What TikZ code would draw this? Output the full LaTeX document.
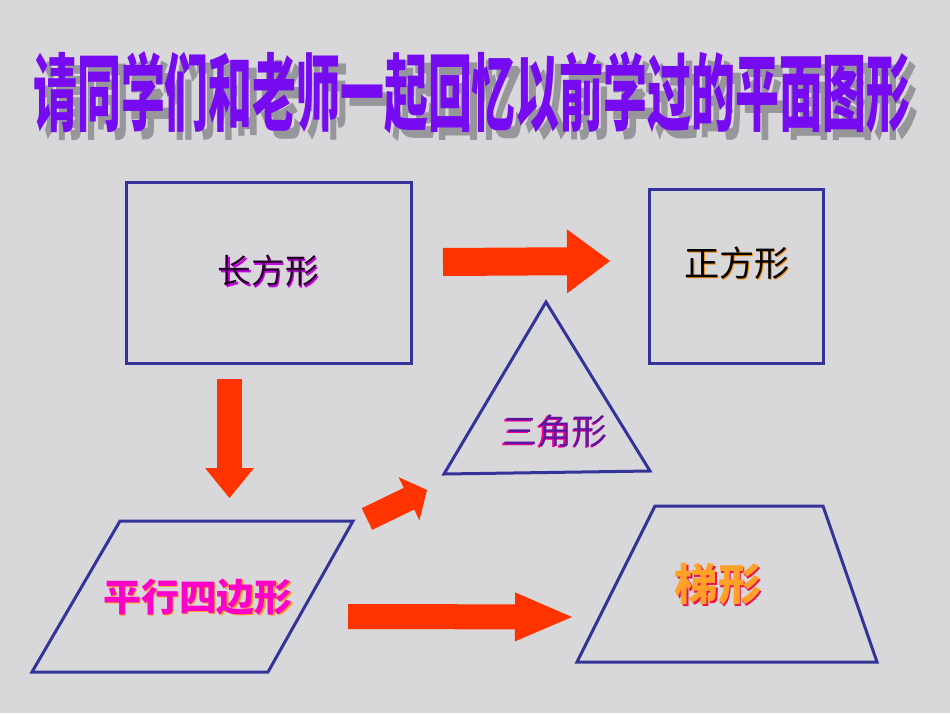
\documentclass[tikz,border=0pt]{standalone}
\usepackage{fontspec}
\usepackage{tikz}
\usetikzlibrary{arrows.meta,positioning}
\newfontfamily\cjk{Noto Sans CJK SC}
\definecolor{marble}{RGB}{216,216,218}
\definecolor{edgeblue}{RGB}{51,51,153}
\definecolor{arrowred}{RGB}{255,51,0}
\definecolor{titlepurple}{RGB}{118,10,240}
\definecolor{titleshade}{RGB}{150,150,155}
\definecolor{darkplum}{RGB}{45,0,50}
\definecolor{glowplum}{RGB}{200,0,230}
\definecolor{glowamber}{RGB}{240,140,20}
\definecolor{triviolet}{RGB}{95,20,160}
\definecolor{trimagenta}{RGB}{255,0,150}
\definecolor{paramagenta}{RGB}{255,0,200}
\definecolor{paraglow}{RGB}{255,160,40}
\definecolor{trapgold}{RGB}{255,160,40}
\definecolor{trapred}{RGB}{235,20,80}

\tikzset{
    figline/.style={draw=edgeblue, line width=0.075cm, line join=miter},
    blockarrow/.style n args={3}{arrowred, line width=#1,
        -{Triangle[length=#2, width=#3, line width=0pt]}},
    figlabel/.style={font=\cjk\fontsize{#1}{#1}\selectfont, inner sep=0pt},
    boldlabel/.style={font=\cjk\bfseries\fontsize{#1}{#1}\selectfont, inner sep=0pt},
}

\begin{document}
\begin{tikzpicture}[x=0.025cm, y=-0.025cm]
    % background
    \fill[marble] (0,0) rectangle (950,713);
    \useasboundingbox (0,0) rectangle (950,713);

    % title
    \node[boldlabel=60, text=titleshade, xscale=0.52] (titleshadow) at (480,101) {请同学们和老师一起回忆以前学过的平面图形};
    \node[boldlabel=60, text=titlepurple, xscale=0.52] (title) at (472,93) {请同学们和老师一起回忆以前学过的平面图形};

    % shapes
    \coordinate (rectA) at (126,182);
    \coordinate (rectB) at (411,363);
    \coordinate (sqA) at (649,189);
    \coordinate (sqB) at (823,363);
    \coordinate (triTop) at (546,302);
    \coordinate (triL) at (444,474);
    \coordinate (triR) at (650,471);
    \coordinate (parTL) at (120,521);
    \coordinate (parTR) at (353,521);
    \coordinate (parBR) at (268,672);
    \coordinate (parBL) at (32,672);
    \coordinate (trapTL) at (655,506);
    \coordinate (trapTR) at (823,506);
    \coordinate (trapBR) at (877,662);
    \coordinate (trapBL) at (577,662);

    \draw[figline] (rectA) rectangle (rectB);
    \draw[figline] (sqA) rectangle (sqB);
    \draw[figline] (triTop) -- (triR) -- (triL) -- cycle;
    \draw[figline] (parTL) -- (parTR) -- (parBR) -- (parBL) -- cycle;
    \draw[figline] (trapTL) -- (trapTR) -- (trapBR) -- (trapBL) -- cycle;

    % labels
    \node[figlabel=24, text=glowplum] (rectglow) at (269.8,272.2) {长方形};
    \node[figlabel=24, text=darkplum] (rect) at (268.5,271) {长方形};
    \node[figlabel=25, text=glowamber] (sqglow) at (738.2,264.2) {正方形};
    \node[figlabel=25, text=black] (sq) at (737,263) {正方形};
    \node[figlabel=25, text=trimagenta] (triglow) at (553.5,432.5) {三角形};
    \node[figlabel=25, text=triviolet] (tri) at (555,431) {三角形};
    \node[boldlabel=27, text=paraglow] (parglow) at (199.3,598.3) {平行四边形};
    \node[boldlabel=27, text=paramagenta] (par) at (198,597) {平行四边形};
    \node[boldlabel=31, text=trapred] (trapglow) at (719.8,585.8) {梯形};
    \node[boldlabel=31, text=trapgold] (trap) at (718,584) {梯形};

    % arrows
    \coordinate (a1s) at (443,262);
    \coordinate (a1e) at (610,261);
    \coordinate (a2s) at (229.5,379);
    \coordinate (a2e) at (229.5,498);
    \coordinate (a3s) at (367,519);
    \coordinate (a3e) at (427,490);
    \coordinate (a4s) at (348,616.5);
    \coordinate (a4e) at (572,617);

    \draw[blockarrow={0.7cm}{1.075cm}{1.6cm}] (a1s) -- (a1e);
    \draw[blockarrow={0.625cm}{0.75cm}{1.225cm}] (a2s) -- (a2e);
    \draw[blockarrow={0.6cm}{0.5cm}{1.2cm}] (a3s) -- (a3e);
    \draw[blockarrow={0.625cm}{1.425cm}{1.225cm}] (a4s) -- (a4e);
\end{tikzpicture}
\end{document}
